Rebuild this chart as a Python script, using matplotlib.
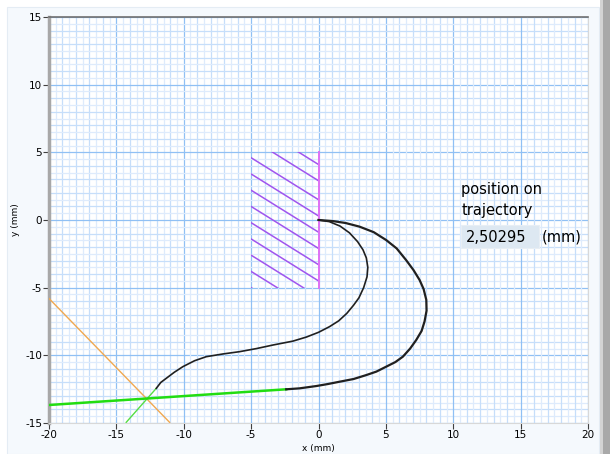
import matplotlib
matplotlib.use("Agg")
import matplotlib.pyplot as plt
from matplotlib.patches import Rectangle
from matplotlib.ticker import MultipleLocator

plt.rcParams['axes.unicode_minus'] = False
plt.rcParams['font.family'] = ['DejaVu Sans']

# trajectory, inner branch (from tangent point up to the origin)
inner_x = [-12.04, -11.7, -11.3, -10.7, -10.07, -9.2, -8.33, -7.1, -5.86, -4.6, -3.39, -1.9, -0.9, 0.0,
           0.82, 1.5, 2.1, 2.6, 3.0, 3.35, 3.6, 3.66, 3.55, 3.3, 2.9, 2.3, 1.6, 0.8, 0.0]
inner_y = [-12.44, -12.0, -11.7, -11.25, -10.84, -10.4, -10.1, -9.9, -9.73, -9.5, -9.24, -8.95, -8.65, -8.3,
           -7.88, -7.45, -6.9, -6.3, -5.75, -5.0, -4.2, -3.5, -2.8, -2.2, -1.6, -0.95, -0.45, -0.12, 0.0]

# trajectory, outer branch (from the origin round to the long tangent)
outer_x = [0.0, 1.06, 2.0, 3.04, 4.1, 5.02, 5.8, 6.5, 7.05, 7.5, 7.8, 8.0, 8.02, 7.87, 7.65, 7.25, 6.8,
           6.26, 5.7, 5.02, 4.3, 3.54, 2.6, 1.56, 0.7, -0.17, -1.41, -2.4]
outer_y = [0.0, -0.08, -0.22, -0.49, -0.9, -1.48, -2.1, -2.96, -3.7, -4.43, -5.1, -5.9, -6.7, -7.5, -8.2,
           -8.87, -9.5, -10.1, -10.5, -10.84, -11.2, -11.46, -11.75, -11.95, -12.12, -12.27, -12.44, -12.51]

# tangent lines
green_long_x = [-20.0, -2.4]
green_long_y = [-13.67, -12.51]
green_short_x = [-14.27, -12.04]
green_short_y = [-14.95, -12.44]
orange_x = [-20.0, -11.05]
orange_y = [-5.8, -14.95]

# obstacle (hatched wall)
wall_x = [0.0, 0.0]
wall_y = [5.0, -5.0]
wall_box = (-5.0, -5.0, 5.0, 10.0)
hatch_start = [7.2, 6.0, 4.6, 3.4, 2.2, 1.0, -0.2, -1.4, -2.6, -3.8, -5.0]
hatch_slope = -0.62

position_value = "2,50295"

fig = plt.figure(figsize=(6.10, 4.54), dpi=100)
fig.patch.set_facecolor('white')
fig.add_artist(Rectangle((0.012, 0.0), 0.97, 0.985, transform=fig.transFigure,
                         facecolor='#f5f9fd', edgecolor='#e4ecf4', lw=0.8, zorder=-5))
fig.add_artist(Rectangle((0.983, 0.0), 0.017, 1.0, transform=fig.transFigure,
                         facecolor='#a9a9a9', edgecolor='none', zorder=-4))
fig.add_artist(Rectangle((0.983, 0.0), 0.005, 1.0, transform=fig.transFigure,
                         facecolor='#d4d4d4', edgecolor='none', zorder=-4))

ax = fig.add_axes([49 / 610, 1 - 423 / 454, 539 / 610, 406 / 454])
ax.set_facecolor('white')
ax.set_xlim(-20, 20)
ax.set_ylim(-15, 15)

# graph paper grid
for v in [i * 0.5 for i in range(-40, 41)]:
    if v % 5 == 0:
        c = '#90c0f4'
    elif v % 1 == 0:
        c = '#c6defa'
    else:
        c = '#deebfc'
    ax.axvline(v, color=c, lw=0.9, zorder=0)
    if -15 <= v <= 15:
        ax.axhline(v, color=c, lw=0.9, zorder=0)

ax.xaxis.set_major_locator(MultipleLocator(5))
ax.yaxis.set_major_locator(MultipleLocator(5))
ax.tick_params(direction='out', length=4, width=0.8, labelsize=7.5, pad=1, color='#404040')

for s in ['bottom', 'right']:
    ax.spines[s].set_color('#d8d8d8')
ax.spines['top'].set_color('#707070')
ax.spines['top'].set_linewidth(1.2)
ax.spines['left'].set_color('#a8a8a8')
ax.spines['left'].set_linewidth(2.5)

ax.set_xlabel('x (mm)', fontsize=6.5, labelpad=3)
ax.set_ylabel('y (mm)', fontsize=6.5, labelpad=4)

# hatched obstacle
clip = Rectangle((wall_box[0], wall_box[1]), wall_box[2], wall_box[3],
                 transform=ax.transData, facecolor='none', edgecolor='none')
ax.add_patch(clip)
for c in hatch_start:
    ln, = ax.plot([-5.0, 0.0], [c, c + hatch_slope * 5.0], color='#a055ee', lw=1.1, zorder=2)
    ln.set_clip_path(clip)
ax.plot(wall_x, wall_y, color='#e070f4', lw=1.4, zorder=3)

# tangents
ax.plot(orange_x, orange_y, color='#f0a850', lw=1.0, zorder=3)
ax.plot(green_short_x, green_short_y, color='#55dd44', lw=1.0, zorder=3)
ax.plot(green_long_x, green_long_y, color='#22dd11', lw=1.8, zorder=4)

# trajectory
ax.plot(inner_x, inner_y, color='#202020', lw=1.2, zorder=5, solid_joinstyle='round')
ax.plot(outer_x, outer_y, color='#202020', lw=1.6, zorder=5, solid_joinstyle='round')

# position box
ax.text(10.6, 2.22, 'position on', fontsize=10.5, color='black', va='center')
ax.text(10.6, 0.67, 'trajectory', fontsize=10.5, color='black', va='center')
ax.add_patch(Rectangle((10.55, -2.07), 5.85, 1.7, facecolor='#dde8f2', edgecolor='#e8eef4',
                       lw=0.8, zorder=6))
ax.text(10.95, -1.26, position_value, fontsize=10.5, color='black', va='center', zorder=7)
ax.text(16.6, -1.26, '(mm)', fontsize=10.5, color='black', va='center', zorder=7)

fig.savefig('out.png', dpi=100, facecolor=fig.get_facecolor())
